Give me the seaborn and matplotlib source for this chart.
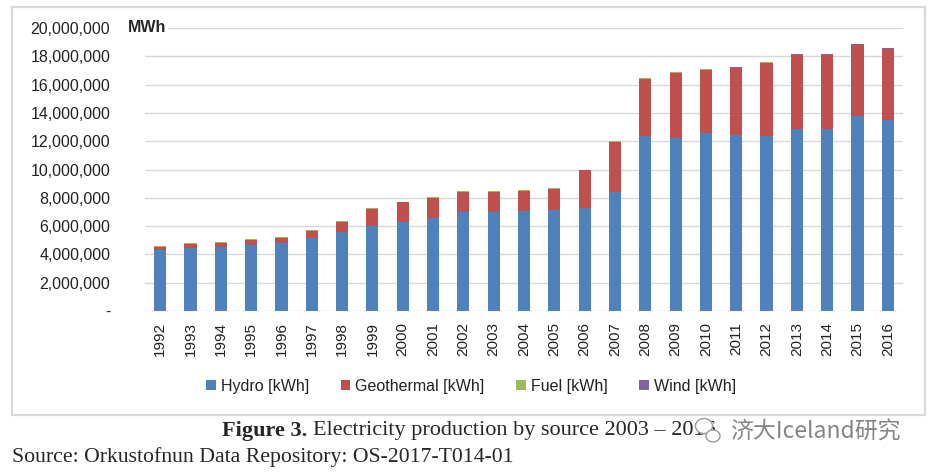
import numpy as np
import pandas as pd
import seaborn as sns
import matplotlib
matplotlib.use('Agg')
import matplotlib.pyplot as plt
from matplotlib.patches import Patch, Rectangle, Ellipse
from matplotlib.ticker import FuncFormatter

# Electricity production by source (MWh)
years = [str(y) for y in range(1992, 2017)]
hydro = [4340000, 4480000, 4530000, 4650000, 4790000, 5190000, 5590000, 6040000,
         6320000, 6580000, 6980000, 7000000, 7050000, 7120000, 7260000, 8390000,
         12400000, 12260000, 12550000, 12470000, 12360000, 12850000, 12850000,
         13750000, 13490000]
geothermal = [170000, 260000, 280000, 370000, 350000, 450000, 700000, 1150000,
              1350000, 1410000, 1410000, 1420000, 1420000, 1490000, 2670000, 3540000,
              4010000, 4570000, 4470000, 4720000, 5160000, 5240000, 5240000,
              5020000, 5010000]
fuel = [60000, 60000, 60000, 60000, 60000, 60000, 60000, 60000,
        60000, 60000, 60000, 60000, 60000, 60000, 60000, 60000,
        60000, 60000, 60000, 10000, 60000, 10000, 10000, 10000, 10000]
wind = [0, 0, 0, 0, 0, 0, 0, 0,
        0, 0, 0, 0, 0, 0, 0, 0,
        0, 0, 0, 60000, 5000, 60000, 60000, 60000, 60000]

series_names = ['Hydro [kWh]', 'Geothermal [kWh]', 'Fuel [kWh]', 'Wind [kWh]']
colors = ['#4F81BD', '#C0504D', '#9BBB59', '#8064A2']

df = pd.DataFrame({'Year': years, 'Hydro': hydro, 'Geothermal': geothermal,
                   'Fuel': fuel, 'Wind': wind})
# cumulative sums for stacking
df['c1'] = df['Hydro']
df['c2'] = df['c1'] + df['Geothermal']
df['c3'] = df['c2'] + df['Fuel']
df['c4'] = df['c3'] + df['Wind']

sns.set_style('white')
plt.rcParams['font.family'] = ['Liberation Sans', 'DejaVu Sans']

W, H = 931, 475
fig = plt.figure(figsize=(W / 100, H / 100), dpi=100)
fig.patch.set_facecolor('white')

# outer chart border
fig.patches.append(Rectangle((12 / W, 1 - 415 / H), 913 / W, 408 / H,
                             transform=fig.transFigure, fill=False,
                             edgecolor='#d9d9d9', lw=1.6))

ax = fig.add_axes([145 / W, 1 - 311 / H, 758 / W, 283 / H])

# draw tallest stack first, then cover it with lower stacks
for col, c in zip(['c4', 'c3', 'c2', 'c1'], colors[::-1]):
    sns.barplot(x='Year', y=col, data=df, color=c, width=0.4, saturation=1,
                errorbar=None, ax=ax, linewidth=0)

ax.set_ylim(0, 20000000)
ax.set_xlim(-0.5, 24.5)
ax.set_yticks(np.arange(0, 20000001, 2000000))
ax.yaxis.set_major_formatter(FuncFormatter(lambda v, p: '-' if v == 0 else f'{v:,.0f}'))
ax.yaxis.grid(True, color='#d9d9d9', lw=1)
ax.set_axisbelow(True)
for s in ax.spines.values():
    s.set_visible(False)
ax.tick_params(axis='y', length=0, pad=25, labelsize=11.5, labelcolor='#222222')
ax.tick_params(axis='x', length=0, pad=8, labelsize=11, labelrotation=90, labelcolor='#222222')
ax.set_xlabel('')
ax.set_ylabel('')

# unit label
fig.text(128 / W, 1 - 27 / H, 'MWh', fontsize=11.5, fontweight='bold', va='center',
         ha='left', bbox=dict(facecolor='white', edgecolor='none', pad=1))

handles = [Patch(facecolor=c, edgecolor='none') for c in colors]
fig.legend(handles, series_names, loc='center', bbox_to_anchor=(471 / W, 1 - 386 / H),
           ncol=4, frameon=False, fontsize=11.5, handlelength=0.6, handleheight=0.6,
           handletextpad=0.3, columnspacing=2.0, labelcolor='#222222')

# caption below the chart
fig.text(222 / W, 1 - 431 / H, 'Figure 3.', fontsize=16, fontweight='bold',
         family='Liberation Serif', va='center')
fig.text(313 / W, 1 - 431 / H, 'Electricity production by source 2003 \u2013 2016',
         fontsize=16, family='Liberation Serif', va='center')
fig.text(12 / W, 1 - 457 / H, 'Source: Orkustofnun Data Repository: OS-2017-T014-01',
         fontsize=15.7, family='Liberation Serif', va='center')

# watermark (icon + text)
for cx, cy, w, h in [(704, 426, 17, 15), (713, 436, 14, 12)]:
    fig.patches.append(Ellipse((cx / W, 1 - cy / H), w / W, h / H,
                               transform=fig.transFigure, facecolor='white',
                               edgecolor='#9a9a9a', lw=1.0, zorder=5))
fig.text(730 / W, 1 - 432 / H, '济大Iceland研究', fontsize=16.5, color='#858585',
         family=['Noto Sans CJK SC', 'DejaVu Sans'], va='center', zorder=6)

fig.savefig('out.png', dpi=100)
